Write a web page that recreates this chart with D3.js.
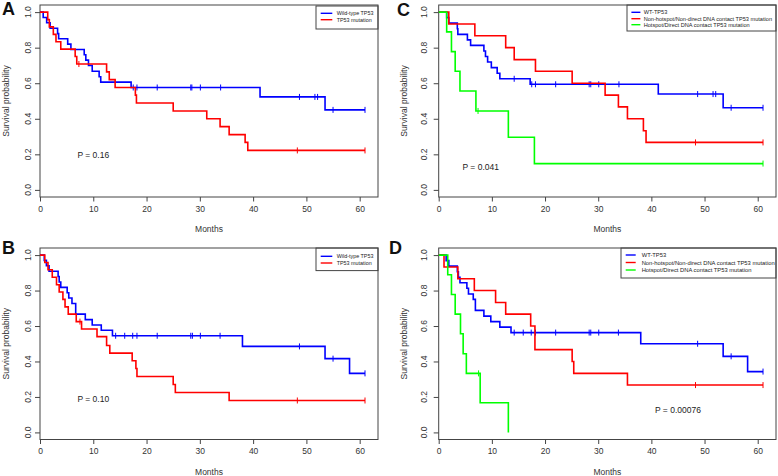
<!DOCTYPE html>
<html lang="en">
<head>
  <meta charset="UTF-8">
  <title>TP53 survival curves</title>
  <script src="https://d3js.org/d3.v7.min.js"></script>
  <style>
    body { margin: 0; background: #fff; }
    svg { font-family: "Liberation Sans", Arial, sans-serif; }
    .frame { fill: none; stroke: #444; stroke-width: 1px; }
    .tick-lab { font-size: 8.5px; fill: #333; }
    .curve { fill: none; stroke-width: 1.6px; }
  </style>
</head>
<body>
  <svg width="778" height="476"></svg>

  <script>
    // axis ticks
    const monthTicks = [0, 10, 20, 30, 40, 50, 60];
    const survTicks = [0, 0.2, 0.4, 0.6, 0.8, 1.0];

    // legend labels and p values
    const twoGroupLabels = ["Wild-type TP53", "TP53 mutation"];
    const threeGroupLabels = ["WT-TP53", "Non-hotspot/Non-direct DNA contact TP53 mutation", "Hotspot/Direct DNA contact TP53 mutation"];
    const pLabels = ["P = 0.16", "P = 0.10", "P = 0.041", "P = 0.00076"];

    // steps: [month, survival after the drop]; censor: months
    const aWildSteps = [[0.6,0.97],[1.25,0.94],[1.9,0.909],[3.3,0.879],[3.5,0.85],[5.2,0.82],[5.8,0.79],[8.3,0.76],[8.6,0.73],[9.1,0.70],[9.8,0.667],[11.1,0.636],[11.4,0.606],[17.1,0.576],[41.3,0.523],[53.5,0.45]];
    const aWildCensor = [17.5, 18.2, 22.0, 28.3, 28.5, 30.1, 33.9, 48.7, 51.6, 52.1, 55.0, 61.0];
    const aMutSteps = [[1.45,0.958],[1.75,0.917],[2.5,0.875],[3.0,0.833],[3.9,0.792],[6.6,0.75],[6.9,0.708],[12.5,0.664],[13.0,0.62],[14.1,0.576],[17.9,0.533],[18.1,0.489],[25.0,0.444],[31.3,0.40],[33.8,0.356],[35.5,0.311],[38.5,0.267],[39.0,0.222]];
    const aMutCensor = [7.3, 48.3, 61.0];

    const bWildSteps = [[0.8,0.97],[1.2,0.94],[1.7,0.909],[3.4,0.879],[3.6,0.848],[3.9,0.818],[5.1,0.788],[5.4,0.758],[6.0,0.727],[6.7,0.667],[8.5,0.636],[9.8,0.606],[11.5,0.576],[13.6,0.545],[38.0,0.485],[53.5,0.416],[58.1,0.333]];
    const bWildCensor = [14.2, 15.9, 17.4, 18.2, 22.0, 28.3, 28.6, 30.1, 33.8, 48.7, 55.0, 61.0];
    const bMutSteps = [[0.9,0.958],[1.5,0.917],[2.3,0.875],[3.1,0.833],[3.6,0.792],[4.3,0.75],[4.7,0.708],[5.3,0.667],[6.8,0.625],[7.8,0.583],[10.7,0.54],[12.5,0.49],[13.1,0.447],[17.3,0.404],[18.0,0.36],[18.2,0.315],[25.0,0.27],[25.4,0.225],[35.5,0.18]];
    const bMutCensor = [7.5, 48.3, 61.0];

    const cWildSteps = [[1.5,0.969],[1.9,0.938],[3.5,0.906],[3.6,0.875],[5.4,0.844],[6.0,0.813],[8.5,0.781],[8.8,0.75],[9.2,0.719],[9.9,0.688],[11.0,0.656],[11.5,0.625],[17.2,0.594],[41.3,0.539],[53.5,0.462]];
    const cWildCensor = [14.2, 17.5, 18.2, 22.0, 28.3, 28.6, 30.1, 33.9, 48.7, 51.6, 52.1, 55.0, 61.0];
    const cNonSteps = [[1.9,0.933],[6.8,0.867],[12.6,0.80],[14.2,0.733],[18.2,0.667],[25.1,0.60],[31.3,0.533],[33.8,0.467],[35.5,0.40],[38.5,0.333],[39.0,0.267]];
    const cNonCensor = [48.3, 61.0];
    const cHotSteps = [[1.5,0.889],[2.4,0.778],[3.1,0.667],[4.0,0.556],[7.0,0.444],[13.1,0.296],[18.0,0.148]];
    const cHotCensor = [7.4, 61.0];

    const dWildSteps = [[1.4,0.969],[1.9,0.938],[3.5,0.906],[3.7,0.875],[4.0,0.844],[5.3,0.813],[5.6,0.781],[6.5,0.75],[6.9,0.688],[8.5,0.656],[9.8,0.625],[11.5,0.594],[13.6,0.563],[38.0,0.50],[53.5,0.429],[58.1,0.343]];
    const dWildCensor = [14.2, 15.9, 17.4, 18.2, 22.0, 28.3, 28.6, 30.1, 33.8, 48.7, 55.0, 61.0];
    const dNonSteps = [[1.0,0.933],[3.6,0.867],[6.7,0.80],[10.7,0.733],[12.6,0.667],[17.3,0.60],[18.1,0.467],[25.1,0.40],[25.4,0.333],[35.5,0.267]];
    const dNonCensor = [48.3, 61.0];
    const dHotSteps = [[1.7,0.889],[2.4,0.778],[3.1,0.667],[4.1,0.556],[4.6,0.444],[5.2,0.333],[7.8,0.167],[13.1,0.0]];
    const dHotCensor = [7.5];

    const colors = ["#0000ff", "#ff0000", "#00ff00"];

    const panels = [
      {letter: "A", lx: 2, ly: 15, left: 40, top: 5, right: 378, bottom: 197, yLabX: 28.3, yTitleX: 5.5,
       curves: [[aWildSteps, aWildCensor], [aMutSteps, aMutCensor]], labels: twoGroupLabels,
       p: pLabels[0], pAt: [10, 0.196],
       leg: {w: 62, h: 23, top: 1, rows: [7.3, 13.7], fs: 5.4, x0: 4.7, len: 11.6, tx: 20.7}},
      {letter: "B", lx: 2, ly: 254, left: 40, top: 248, right: 378, bottom: 439.5, yLabX: 28.3, yTitleX: 5.5,
       curves: [[bWildSteps, bWildCensor], [bMutSteps, bMutCensor]], labels: twoGroupLabels,
       p: pLabels[1], pAt: [10, 0.188],
       leg: {w: 62, h: 22.6, top: 0, rows: [8.3, 15], fs: 5.4, x0: 4.7, len: 11.6, tx: 20.7}},
      {letter: "C", lx: 397, ly: 16, left: 438.7, top: 5, right: 776, bottom: 197, yLabX: 423.7, yTitleX: 403.5,
       curves: [[cWildSteps, cWildCensor], [cNonSteps, cNonCensor], [cHotSteps, cHotCensor]], labels: threeGroupLabels,
       p: pLabels[2], pAt: [7.9, 0.13],
       leg: {w: 149, h: 26, top: 0, rows: [7.3, 13.7, 19.7], fs: 5.6, x0: 4.4, len: 9, tx: 16.7}},
      {letter: "D", lx: 389, ly: 254, left: 438.7, top: 248, right: 776, bottom: 439.5, yLabX: 423.7, yTitleX: 403.8,
       curves: [[dWildSteps, dWildCensor], [dNonSteps, dNonCensor], [dHotSteps, dHotCensor]], labels: threeGroupLabels,
       p: pLabels[3], pAt: [45, 0.125],
       leg: {w: 155, h: 30, top: 0, rows: [7, 14.5, 22], fs: 5.8, x0: 4.7, len: 10, tx: 20.7}}
    ];

    const svg = d3.select("svg");

    // survival value just after time t (step function)
    function survAt(steps, t) {
      let s = 1;
      steps.forEach(d => { if (d[0] <= t) s = d[1]; });
      return s;
    }

    panels.forEach(p => {
      const g = svg.append("g");
      const x = d3.scaleLinear().domain([0, 61 * 1.04]).range([p.left, p.right]);
      const y = d3.scaleLinear().domain([-0.04, 1.04]).range([p.bottom, p.top]);

      g.append("rect").attr("class", "frame")
        .attr("x", p.left).attr("y", p.top)
        .attr("width", p.right - p.left).attr("height", p.bottom - p.top);

      // x axis
      const xa = g.append("g").attr("transform", `translate(0,${p.bottom})`)
        .call(d3.axisBottom(x).tickValues(monthTicks).tickSize(4.5).tickPadding(4).tickFormat(d3.format("d")));
      xa.select(".domain").remove();
      xa.selectAll("line").attr("stroke", "#444");
      xa.selectAll("text").attr("class", "tick-lab").attr("font-size", null).attr("fill", null);

      // y axis, labels rotated as in R
      const ya = g.append("g").attr("transform", `translate(${p.left},0)`)
        .call(d3.axisLeft(y).tickValues(survTicks).tickSize(5).tickFormat(""));
      ya.select(".domain").remove();
      ya.selectAll("line").attr("stroke", "#444");
      g.selectAll(".ylab").data(survTicks).enter().append("text")
        .attr("class", "tick-lab")
        .attr("transform", d => `translate(${p.yLabX},${y(d)}) rotate(-90)`)
        .attr("text-anchor", "middle").attr("dominant-baseline", "central")
        .text(d3.format(".1f"));

      g.append("text").attr("class", "tick-lab")
        .attr("x", (p.left + p.right) / 2).attr("y", p.bottom + 32)
        .attr("text-anchor", "middle").attr("dominant-baseline", "central")
        .text("Months");
      g.append("text").attr("class", "tick-lab")
        .attr("transform", `translate(${p.yTitleX},${(p.top + p.bottom) / 2}) rotate(-90)`)
        .attr("text-anchor", "middle").attr("dominant-baseline", "central")
        .text("Survival probability");

      g.append("text")
        .attr("x", p.lx).attr("y", p.ly)
        .attr("font-size", 18).attr("font-weight", "bold").attr("fill", "#111")
        .text(p.letter);

      // curves
      const line = d3.line().x(d => x(d[0])).y(d => y(d[1])).curve(d3.curveStepAfter);
      p.curves.forEach((c, i) => {
        const steps = c[0], cens = c[1];
        const last = steps[steps.length - 1];
        const end = Math.max(last[0], d3.max(cens) || 0);
        const pts = [[0, 1]].concat(steps, [[end, last[1]]]);
        g.append("path").attr("class", "curve").attr("stroke", colors[i]).attr("d", line(pts));
        g.selectAll(null).data(cens).enter().append("line")
          .attr("x1", d => x(d)).attr("x2", d => x(d))
          .attr("y1", d => y(survAt(steps, d)) - 3).attr("y2", d => y(survAt(steps, d)) + 3)
          .attr("stroke", colors[i]).attr("stroke-width", 1);
      });

      // p value
      g.append("text")
        .attr("x", x(p.pAt[0])).attr("y", y(p.pAt[1]))
        .attr("text-anchor", "middle").attr("dominant-baseline", "central")
        .attr("font-size", 8.5).attr("fill", "#222")
        .text(p.p);

      // legend
      const L = p.leg;
      const lg = g.append("g").attr("transform", `translate(${p.right - L.w},${p.top + L.top})`);
      lg.append("rect").attr("class", "frame").attr("width", L.w).attr("height", L.h);
      p.labels.forEach((lab, i) => {
        lg.append("line").attr("x1", L.x0).attr("x2", L.x0 + L.len)
          .attr("y1", L.rows[i]).attr("y2", L.rows[i])
          .attr("stroke", colors[i]).attr("stroke-width", 1.4);
        lg.append("text").attr("x", L.tx).attr("y", L.rows[i])
          .attr("dominant-baseline", "central")
          .attr("font-size", L.fs).attr("fill", "#222")
          .text(lab);
      });
    });
  </script>
</body>
</html>
